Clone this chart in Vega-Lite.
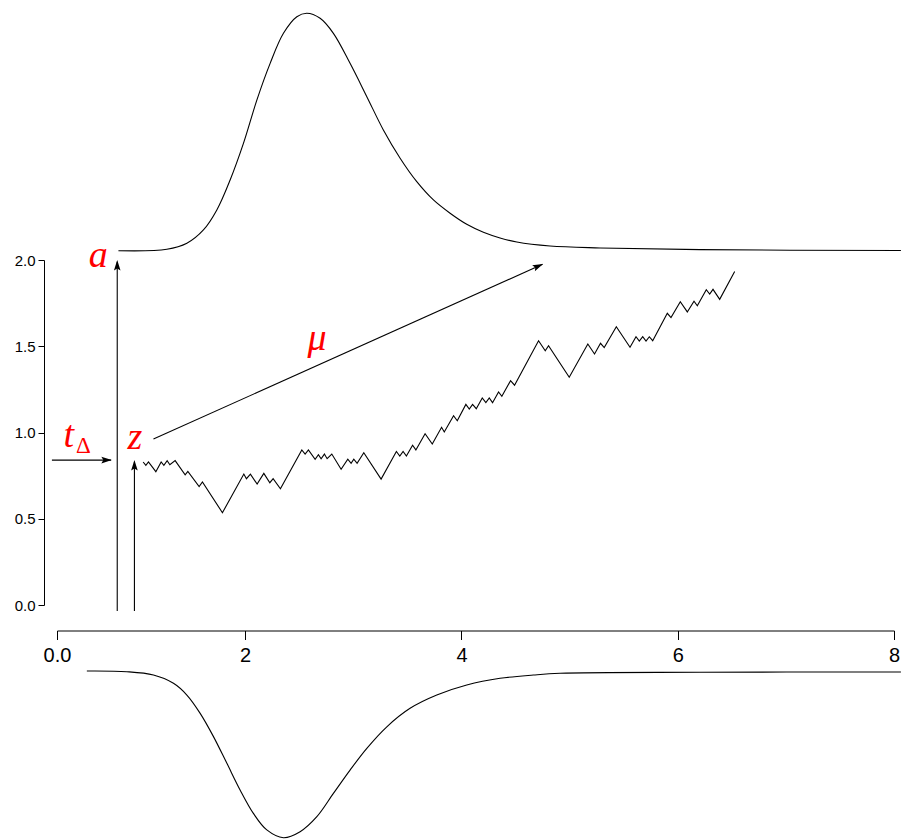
{
  "$schema": "https://vega.github.io/schema/vega-lite/v6.json",
  "width": 901,
  "height": 839,
  "padding": 0,
  "autosize": {"type": "none"},
  "background": "white",
  "config": {
    "view": {"stroke": null},
    "axis": {"labelFont": "Liberation Sans", "labelColor": "black", "domainColor": "black", "tickColor": "black", "grid": false, "title": null}
  },
  "datasets": {
    "walk": [
      {"x": 1.0567, "y": 0.829}, {"x": 1.0817, "y": 0.810}, {"x": 1.1057, "y": 0.829}, {"x": 1.1741, "y": 0.773},
      {"x": 1.2231, "y": 0.829}, {"x": 1.2481, "y": 0.810}, {"x": 1.2786, "y": 0.837}, {"x": 1.3036, "y": 0.813},
      {"x": 1.3526, "y": 0.837}, {"x": 1.4450, "y": 0.754}, {"x": 1.4700, "y": 0.775}, {"x": 1.5744, "y": 0.686},
      {"x": 1.6049, "y": 0.713}, {"x": 1.7898, "y": 0.535}, {"x": 1.9877, "y": 0.759}, {"x": 2.0117, "y": 0.732},
      {"x": 2.0487, "y": 0.759}, {"x": 2.1106, "y": 0.701}, {"x": 2.1726, "y": 0.763}, {"x": 2.2281, "y": 0.709},
      {"x": 2.2586, "y": 0.732}, {"x": 2.3261, "y": 0.674}, {"x": 2.5239, "y": 0.899}, {"x": 2.5544, "y": 0.875},
      {"x": 2.5849, "y": 0.899}, {"x": 2.6469, "y": 0.845}, {"x": 2.6774, "y": 0.871}, {"x": 2.7023, "y": 0.848},
      {"x": 2.7328, "y": 0.875}, {"x": 2.7578, "y": 0.848}, {"x": 2.8012, "y": 0.875}, {"x": 2.8872, "y": 0.787},
      {"x": 2.9491, "y": 0.845}, {"x": 2.9796, "y": 0.821}, {"x": 3.0046, "y": 0.845}, {"x": 3.0351, "y": 0.821},
      {"x": 3.0971, "y": 0.883}, {"x": 3.2570, "y": 0.730}, {"x": 3.3984, "y": 0.890}, {"x": 3.4299, "y": 0.864},
      {"x": 3.4604, "y": 0.890}, {"x": 3.4909, "y": 0.864}, {"x": 3.5482, "y": 0.926}, {"x": 3.5787, "y": 0.899},
      {"x": 3.6638, "y": 0.993}, {"x": 3.7303, "y": 0.933}, {"x": 3.8163, "y": 1.030}, {"x": 3.8413, "y": 1.003},
      {"x": 3.9272, "y": 1.097}, {"x": 3.9614, "y": 1.068}, {"x": 4.0409, "y": 1.163}, {"x": 4.0724, "y": 1.136},
      {"x": 4.1029, "y": 1.163}, {"x": 4.1371, "y": 1.138}, {"x": 4.1925, "y": 1.200}, {"x": 4.2258, "y": 1.173},
      {"x": 4.2572, "y": 1.200}, {"x": 4.2877, "y": 1.173}, {"x": 4.3432, "y": 1.235}, {"x": 4.3737, "y": 1.210},
      {"x": 4.4541, "y": 1.300}, {"x": 4.4911, "y": 1.274}, {"x": 4.7130, "y": 1.532}, {"x": 4.7749, "y": 1.474},
      {"x": 4.8054, "y": 1.503}, {"x": 4.9968, "y": 1.320}, {"x": 5.1687, "y": 1.513}, {"x": 5.2307, "y": 1.455},
      {"x": 5.2861, "y": 1.517}, {"x": 5.3203, "y": 1.492}, {"x": 5.4322, "y": 1.613}, {"x": 5.5589, "y": 1.494},
      {"x": 5.6143, "y": 1.555}, {"x": 5.6448, "y": 1.530}, {"x": 5.6763, "y": 1.555}, {"x": 5.7068, "y": 1.530},
      {"x": 5.7373, "y": 1.555}, {"x": 5.7687, "y": 1.532}, {"x": 5.9037, "y": 1.691}, {"x": 5.9379, "y": 1.666},
      {"x": 6.0239, "y": 1.758}, {"x": 6.0886, "y": 1.699}, {"x": 6.1506, "y": 1.761}, {"x": 6.1811, "y": 1.735},
      {"x": 6.2642, "y": 1.828}, {"x": 6.2957, "y": 1.803}, {"x": 6.3262, "y": 1.830}, {"x": 6.3881, "y": 1.772},
      {"x": 6.5267, "y": 1.934}
    ],
    "upper": [
      {"x": 0.828, "y": 2.054}, {"x": 1.276, "y": 2.062}, {"x": 1.461, "y": 2.097}, {"x": 1.614, "y": 2.174},
      {"x": 1.738, "y": 2.290}, {"x": 1.861, "y": 2.464}, {"x": 1.984, "y": 2.676}, {"x": 2.108, "y": 2.927},
      {"x": 2.231, "y": 3.140}, {"x": 2.354, "y": 3.314}, {"x": 2.478, "y": 3.410}, {"x": 2.570, "y": 3.430},
      {"x": 2.693, "y": 3.401}, {"x": 2.816, "y": 3.314}, {"x": 2.970, "y": 3.140}, {"x": 3.125, "y": 2.947},
      {"x": 3.278, "y": 2.754}, {"x": 3.433, "y": 2.590}, {"x": 3.587, "y": 2.454}, {"x": 3.741, "y": 2.348},
      {"x": 3.895, "y": 2.271}, {"x": 4.049, "y": 2.207}, {"x": 4.203, "y": 2.161}, {"x": 4.357, "y": 2.128},
      {"x": 4.512, "y": 2.104}, {"x": 4.819, "y": 2.081}, {"x": 5.282, "y": 2.070}, {"x": 6.206, "y": 2.060},
      {"x": 8.064, "y": 2.055}
    ],
    "lower": [
      {"x": 0.536, "y": -0.383}, {"x": 0.906, "y": -0.387}, {"x": 1.152, "y": -0.406}, {"x": 1.337, "y": -0.454},
      {"x": 1.461, "y": -0.522}, {"x": 1.584, "y": -0.628}, {"x": 1.707, "y": -0.763}, {"x": 1.831, "y": -0.918},
      {"x": 1.953, "y": -1.072}, {"x": 2.076, "y": -1.208}, {"x": 2.200, "y": -1.304}, {"x": 2.354, "y": -1.349},
      {"x": 2.508, "y": -1.314}, {"x": 2.663, "y": -1.227}, {"x": 2.816, "y": -1.092}, {"x": 2.970, "y": -0.957},
      {"x": 3.125, "y": -0.831}, {"x": 3.310, "y": -0.706}, {"x": 3.525, "y": -0.599}, {"x": 3.772, "y": -0.522},
      {"x": 4.049, "y": -0.464}, {"x": 4.357, "y": -0.425}, {"x": 4.665, "y": -0.406}, {"x": 4.912, "y": -0.396},
      {"x": 6.206, "y": -0.390}, {"x": 8.064, "y": -0.388}
    ],
    "arrows": [
      {"name": "a", "x": 0.817, "y": -0.035, "x2": 0.817, "y2": 1.99},
      {"name": "z", "x": 0.976, "y": -0.035, "x2": 0.976, "y2": 0.83},
      {"name": "t", "x": 0.213, "y": 0.84, "x2": 0.76, "y2": 0.84},
      {"name": "mu", "x": 1.152, "y": 0.962, "x2": 4.75, "y2": 1.975}
    ],
    "upHeads": [{"x": 0.817, "y": 2.0}, {"x": 0.976, "y": 0.84}],
    "rightHeads": [{"x": 0.767, "y": 0.84}],
    "muHeads": [{"x": 4.755, "y": 1.977}],
    "labels": [
      {"x": 0.641, "y": 1.959, "label": "a"},
      {"x": 0.980, "y": 0.904, "label": "z"},
      {"x": 0.368, "y": 0.916, "label": "t"},
      {"x": 2.665, "y": 1.478, "label": "μ"}
    ],
    "subs": [{"x": 0.505, "y": 0.881, "label": "Δ"}]
  },
  "encoding": {
    "x": {
      "field": "x", "type": "quantitative",
      "scale": {"domain": [0.26, 8], "range": [57, 894], "nice": false, "zero": false},
      "axis": {
        "orient": "bottom", "offset": -208.5, "values": [0.26, 2, 4, 6, 8],
        "labelExpr": "datum.value < 1 ? '0.0' : format(datum.value, 'd')",
        "tickSize": 9, "labelFontSize": 20, "labelPadding": 6, "labelFlush": false, "labelOverlap": false,
        "domainWidth": 1, "tickWidth": 1
      }
    },
    "y": {
      "field": "y", "type": "quantitative",
      "scale": {"domain": [0, 2], "range": [605, 260], "nice": false, "zero": false},
      "axis": {
        "orient": "left", "offset": -44, "values": [0, 0.5, 1, 1.5, 2], "format": ".1f",
        "tickSize": 6, "labelFontSize": 15, "labelPadding": 3, "labelFlush": false, "labelOverlap": false,
        "domainWidth": 1, "tickWidth": 1
      }
    }
  },
  "layer": [
    {"data": {"name": "upper"}, "mark": {"type": "line", "color": "black", "strokeWidth": 1.1, "interpolate": "catmull-rom"}},
    {"data": {"name": "lower"}, "mark": {"type": "line", "color": "black", "strokeWidth": 1.1, "interpolate": "catmull-rom"}},
    {"data": {"name": "walk"}, "mark": {"type": "line", "color": "black", "strokeWidth": 1.1}},
    {"data": {"name": "arrows"}, "mark": {"type": "rule", "color": "black", "strokeWidth": 1.1},
     "encoding": {"x2": {"field": "x2"}, "y2": {"field": "y2"}}},
    {"data": {"name": "upHeads"}, "mark": {"type": "point", "filled": true, "color": "black", "opacity": 1, "size": 400, "angle": 0,
      "shape": "M0,0 L0.33,1.05 L0,0.85 L-0.33,1.05 Z"}},
    {"data": {"name": "rightHeads"}, "mark": {"type": "point", "filled": true, "color": "black", "opacity": 1, "size": 400, "angle": 90,
      "shape": "M0,0 L0.33,1.05 L0,0.85 L-0.33,1.05 Z"}},
    {"data": {"name": "muHeads"}, "mark": {"type": "point", "filled": true, "color": "black", "opacity": 1, "size": 400, "angle": 65.8,
      "shape": "M0,0 L0.33,1.05 L0,0.85 L-0.33,1.05 Z"}},
    {"data": {"name": "labels"}, "mark": {"type": "text", "color": "#ff0000", "font": "Liberation Serif", "fontStyle": "italic", "fontSize": 38, "align": "center", "baseline": "alphabetic"},
     "encoding": {"text": {"field": "label"}}},
    {"data": {"name": "subs"}, "mark": {"type": "text", "color": "#ff0000", "font": "Liberation Serif", "fontSize": 23, "align": "center", "baseline": "alphabetic"},
     "encoding": {"text": {"field": "label"}}}
  ]
}
